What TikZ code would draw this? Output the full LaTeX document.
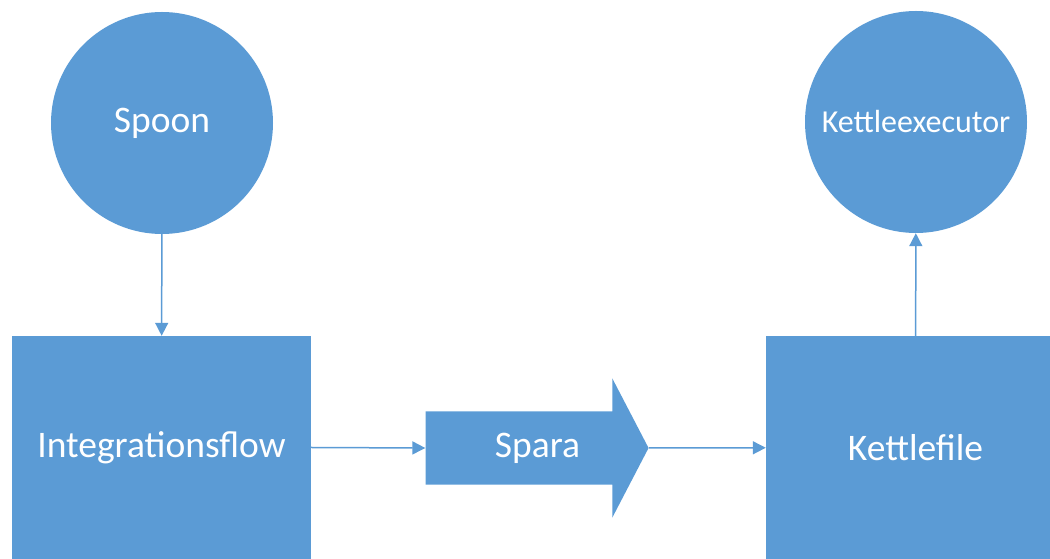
\documentclass[tikz,border=0pt]{standalone}
\usepackage{fontspec}
\setmainfont{Carlito}
\usetikzlibrary{shapes.arrows,arrows.meta}
\definecolor{boxblue}{HTML}{5B9BD5}
\tikzset{
  blob/.style={circle,fill=boxblue,text=white,minimum size=222pt,inner sep=0pt,
    font=\fontsize{37.5}{44}\selectfont},
  blk/.style={rectangle,fill=boxblue,text=white,minimum width=299pt,minimum height=223pt,
    inner sep=0pt,font=\fontsize{37.5}{44}\selectfont},
  flow/.style={draw=boxblue,line width=1.5pt,-{Triangle[length=13pt,width=13pt]}}
}
\begin{document}
\begin{tikzpicture}[x=1pt,y=1pt]
  \useasboundingbox (0,0) rectangle (1050,559);
  \clip (0,0) rectangle (1050,559);
  \node[blob] (spoon) at (162,436) {Spoon};
  \node[blob,font=\fontsize{32}{38}\selectfont] (exec) at (916,437) {Kettleexecutor};
  \node[blk] (intf) at (161.5,111.5) {Integrationsflow};
  \node[blk] (kfile) at (915.5,111.5) {Kettlefile};
  \node[single arrow,fill=boxblue,text=white,inner xsep=0pt,inner ysep=20pt,
    text height=26pt,text depth=7pt,minimum height=223pt,minimum width=139pt,
    single arrow head extend=33pt,single arrow tip angle=125,
    font=\fontsize{37.5}{44}\selectfont] (spara) at (527.5,111) {\hspace*{20pt}Spara};
  \draw[flow] (spoon) -- (intf);
  \draw[flow] (intf.east) -- (spara.tail);
  \draw[flow] (spara.tip) -- (kfile);
  \draw[flow] (kfile) -- (exec);
\end{tikzpicture}
\end{document}
